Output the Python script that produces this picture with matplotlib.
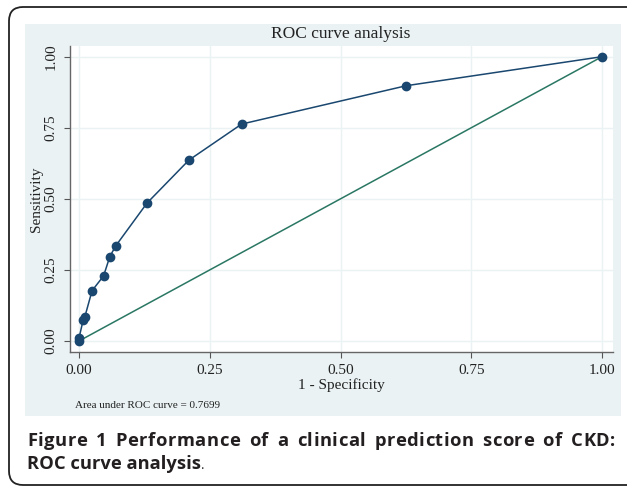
import matplotlib
matplotlib.use("Agg")
import matplotlib.pyplot as plt
from matplotlib.patches import Rectangle, FancyBboxPatch
from matplotlib.transforms import IdentityTransform

# Data
fpr = [0.0, 0.0, 0.008, 0.011, 0.025, 0.047, 0.059, 0.070, 0.130, 0.210, 0.311, 0.626, 1.0]
tpr = [0.0, 0.010, 0.074, 0.084, 0.177, 0.229, 0.297, 0.334, 0.485, 0.636, 0.763, 0.898, 1.0]
ref_x = [0.0, 1.0]
ref_y = [0.0, 1.0]
ticks = [0.0, 0.25, 0.5, 0.75, 1.0]
tick_labels = ["0.00", "0.25", "0.50", "0.75", "1.00"]
title = "ROC curve analysis"
xlabel = "1 - Specificity"
ylabel = "Sensitivity"
note = "Area under ROC curve = 0.7699"
cap_label = "Figure 1"
cap_line1 = "Performance of a clinical prediction score of CKD:"
cap_line2 = "ROC curve analysis"

serif = ["Liberation Serif", "DejaVu Serif"]
W, H = 627, 488
fig = plt.figure(figsize=(W / 100, H / 100), dpi=100)
fig.patch.set_facecolor("white")

# outer rounded border (pixel coords)
border = FancyBboxPatch((9, 3), 650, 478, boxstyle="round,pad=0,rounding_size=14",
                        transform=IdentityTransform(), facecolor="white",
                        edgecolor="#222222", linewidth=1.3, zorder=0)
fig.patches.append(border)

# Stata graph region panel
panel = Rectangle((25 / W, 1 - 416 / H), 596 / W, 392 / H, transform=fig.transFigure,
                  facecolor="#EAF2F3", edgecolor="none", zorder=1)
fig.patches.append(panel)

ax = fig.add_axes([70 / W, 1 - 352 / H, 543 / W, 306 / H])
ax.set_zorder(2)
ax.set_facecolor("white")
ax.set_xlim(-0.0172, 1.021)
ax.set_ylim(-0.0387, 1.0376)

for t in ticks:
    ax.axvline(t, color="#EAF2F3", lw=1.0, zorder=0)
    ax.axhline(t, color="#EAF2F3", lw=1.0, zorder=0)

ax.plot(ref_x, ref_y, color="#2A7763", lw=1.1, zorder=2)
ax.plot(fpr, tpr, color="#1A476F", lw=1.1, marker="o", markersize=6.0, zorder=3)

ax.set_xticks(ticks)
ax.set_xticklabels(tick_labels, fontfamily=serif, fontsize=11)
ax.set_yticks(ticks)
ax.set_yticklabels(tick_labels, fontfamily=serif, fontsize=11, rotation=90, va="center")
ax.tick_params(axis="both", direction="out", length=4, width=0.8, color="#555555",
               labelcolor="#222222", pad=5)

for s in ["top", "right"]:
    ax.spines[s].set_visible(False)
for s in ["left", "bottom"]:
    ax.spines[s].set_color("#666666")
    ax.spines[s].set_linewidth(1.0)

fig.text(341 / W, 1 - 34 / H, title, ha="center", va="center", fontfamily=serif,
         fontsize=12.5, color="#222222")
fig.text(341 / W, 1 - 385 / H, xlabel, ha="center", va="center", fontfamily=serif,
         fontsize=11, color="#222222")
fig.text(36 / W, 1 - 199 / H, ylabel, ha="center", va="center", rotation=90,
         fontfamily=serif, fontsize=11, color="#222222")
fig.text(75 / W, 1 - 405 / H, note, ha="left", va="center", fontfamily=serif,
         fontsize=8, color="#222222")

# ---- caption (first line justified: word + letter spacing) ----
cap = ["Open Sans", "DejaVu Sans"]
fs = 13.2
col = "#231F20"
renderer = fig.canvas.get_renderer()


def text_width(s, weight):
    if not s:
        return 0.0
    t = fig.text(0, 0, s, fontfamily=cap, fontsize=fs, fontweight=weight)
    w = t.get_window_extent(renderer).width
    t.remove()
    return w


x0, x1 = 27.0, 615.0
y1 = 488 - 446
y2 = 488 - 469
segments = [(cap_label + " ", "bold"), (cap_line1, "bold")]
chars = []
offset = 0.0
for seg, wt in segments:
    for i, ch in enumerate(seg):
        chars.append((ch, wt, offset + text_width(seg[:i], wt)))
    offset += text_width(seg, wt)
natural = offset
extra = x1 - x0 - natural
n_spaces = sum(1 for c in chars if c[0] == " ")
word_extra = 0.5 * extra / n_spaces
track = 0.5 * extra / (len(chars) - 1)
shift = 0.0
for i, (ch, wt, px) in enumerate(chars):
    if ch == " ":
        shift += word_extra
        continue
    fig.text((x0 + px + i * track + shift) / W, y1 / H, ch, ha="left", va="baseline",
             fontfamily=cap, fontsize=fs, fontweight=wt, color=col)

t3 = fig.text(x0 / W, y2 / H, cap_line2, ha="left", va="baseline",
              fontfamily=cap, fontsize=fs, fontweight="bold", color=col)
bb3 = t3.get_window_extent(renderer)
fig.text((bb3.x1 + 0.5) / W, y2 / H, ".", ha="left", va="baseline", fontfamily=cap,
         fontsize=9.5, color=col)

fig.savefig("out.png", dpi=100)
